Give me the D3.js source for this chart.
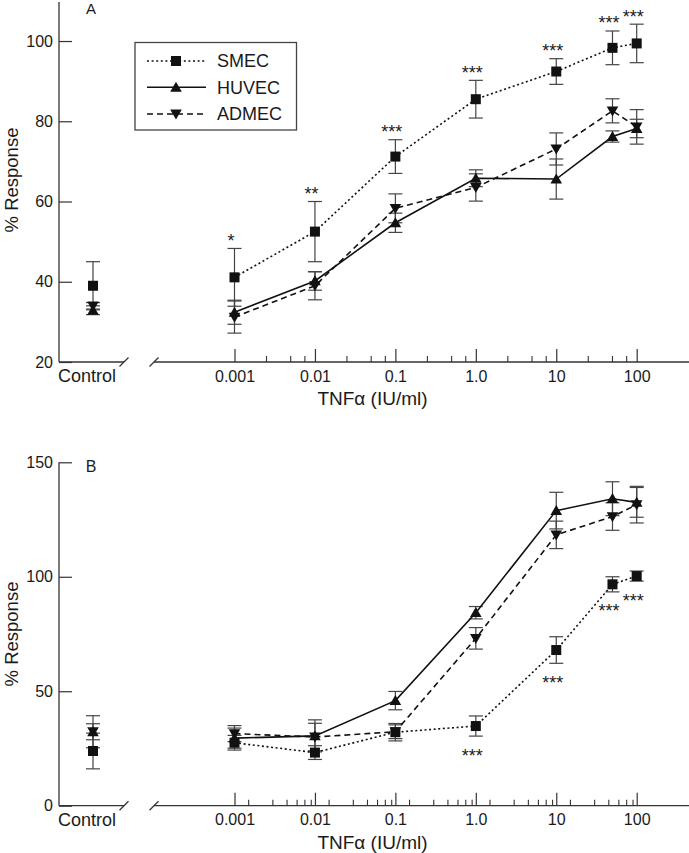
<!DOCTYPE html>
<html><head><meta charset="utf-8">
<script src="https://cdn.jsdelivr.net/npm/d3@7"></script>
<style>
body{margin:0;background:#fff}
svg{display:block}
text{font-family:"Liberation Sans",Arial,Helvetica,sans-serif;fill:#1a1a1a}
</style>
</head><body>
<svg id="c" width="689" height="853"></svg>
<script>
// ---------- DATA ----------
const doses = [0.001, 0.01, 0.1, 1, 10, 50, 100];
const doseTicks = [0.001, 0.01, 0.1, 1, 10, 100];
const doseTickLabels = ["0.001", "0.01", "0.1", "1.0", "10", "100"];
const seriesNames = ["SMEC", "HUVEC", "ADMEC"];
const controlLabel = "Control";
const xTitle = "TNF\u03B1 (IU/ml)";
const yTitle = "% Response";

// Panel A
const yTicksA = [20, 40, 60, 80, 100];
const smecA = [41.1, 52.5, 71.2, 85.5, 92.4, 98.3, 99.4];
const smecAErr = [7.2, 7.5, 4.2, 4.7, 3.2, 4.2, 4.8];
const huvecA = [32.4, 40.2, 54.7, 65.8, 65.6, 76.2, 78.2];
const huvecAErr = [3.0, 2.3, 2.4, 2.1, 5.0, 1.4, 2.3];
const admecA = [31.2, 39.0, 58.3, 63.5, 73.1, 82.6, 78.6];
const admecAErr = [4.0, 3.5, 3.6, 3.4, 4.0, 3.0, 4.3];
const controlA = [39.0, 32.9, 34.0];      // SMEC, HUVEC, ADMEC
const controlAErr = [6.0, 1.1, 0.8];
const starsA = ["*", "**", "***", "***", "***", "***", "***"];

// Panel B
const yTicksB = [0, 50, 100, 150];
const smecB = [27.5, 23.2, 32.1, 34.8, 68.0, 96.7, 100.3];
const smecBErr = [3.2, 3.0, 3.8, 4.4, 5.8, 3.3, 2.2];
const huvecB = [29.5, 30.5, 45.9, 84.3, 128.9, 134.1, 132.5];
const huvecBErr = [4.4, 7.0, 4.0, 2.7, 8.0, 7.4, 6.5];
const admecB = [31.5, 30.0, 32.3, 73.1, 118.3, 126.3, 131.5];
const admecBErr = [3.5, 6.0, 3.0, 4.7, 6.0, 6.0, 8.0];
const controlB = [23.9, 32.3, 32.3];
const controlBErr = [7.8, 3.5, 7.0];
const starsB = ["", "", "", "***", "***", "***", "***"];

// ---------- LAYOUT ----------
const svg = d3.select("#c");
svg.append("rect").attr("width", 689).attr("height", 853).attr("fill", "#fff");

const X0 = 59, breakL = 124, breakR = 154, rightEnd = 689;
const xControl = 93;
const x = d3.scaleLog().domain([0.001, 100]).range([234.5, 636.7]);

const dashes = {SMEC: "2,2.6", HUVEC: null, ADMEC: "6,4"};
const ink = "#111";

function marker(g, name, cx, cy) {
  if (name === "SMEC") {
    g.append("rect").attr("x", cx - 5).attr("y", cy - 5).attr("width", 10).attr("height", 10).attr("fill", ink);
  } else if (name === "HUVEC") {
    g.append("path").attr("d", `M${cx},${cy - 5.6}L${cx + 5.8},${cy + 4.4}L${cx - 5.8},${cy + 4.4}Z`).attr("fill", ink);
  } else {
    g.append("path").attr("d", `M${cx},${cy + 5.6}L${cx + 5.8},${cy - 4.4}L${cx - 5.8},${cy - 4.4}Z`).attr("fill", ink);
  }
}

function errbar(g, cx, y, v, e) {
  const y1 = y(v + e), y2 = y(v - e);
  g.append("line").attr("x1", cx).attr("x2", cx).attr("y1", y1).attr("y2", y2);
  g.append("line").attr("x1", cx - 7).attr("x2", cx + 7).attr("y1", y1).attr("y2", y1);
  g.append("line").attr("x1", cx - 7).attr("x2", cx + 7).attr("y1", y2).attr("y2", y2);
}

function panel(p) {
  const g = svg.append("g");
  const y = p.y;
  // y axis
  const ya = g.append("g").attr("transform", `translate(${X0},0)`)
    .call(d3.axisLeft(y).tickValues(p.yTicks).tickSize(-13).tickPadding(6).tickFormat(d3.format("d")));
  ya.select(".domain").remove();
  ya.selectAll("line").attr("stroke", "#333").attr("stroke-width", 1.2);
  ya.selectAll("text").attr("font-size", 16).attr("fill", "#1a1a1a")
    .style("font-family", "'Liberation Sans',Arial,sans-serif");
  g.append("line").attr("x1", X0).attr("x2", X0).attr("y1", p.yTop).attr("y2", p.axisY)
    .attr("stroke", "#333").attr("stroke-width", 1.3);

  // x axis
  const xa = g.append("g").attr("transform", `translate(0,${p.axisY})`)
    .call(d3.axisBottom(x).tickValues(doseTicks).tickSize(-13).tickPadding(p.tickPad)
      .tickFormat((d, i) => doseTickLabels[i]));
  xa.select(".domain").remove();
  xa.selectAll("line").attr("stroke", "#333").attr("stroke-width", 1.2);
  xa.selectAll("text").attr("font-size", 16).attr("fill", "#1a1a1a")
    .style("font-family", "'Liberation Sans',Arial,sans-serif");
  // minor ticks
  const minor = [];
  doseTicks.slice(0, -1).forEach(d => p.minorMult.forEach(m => minor.push(d * m)));
  g.append("g").selectAll("line").data(minor).join("line")
    .attr("x1", d => x(d)).attr("x2", d => x(d))
    .attr("y1", p.axisY).attr("y2", p.axisY - 6)
    .attr("stroke", "#333").attr("stroke-width", 1.1);
  // axis segments with break marks
  const ax = g.append("g").attr("stroke", "#333").attr("stroke-width", 1.3).attr("fill", "none");
  ax.append("line").attr("x1", X0).attr("x2", breakL).attr("y1", p.axisY).attr("y2", p.axisY);
  ax.append("line").attr("x1", breakR).attr("x2", rightEnd).attr("y1", p.axisY).attr("y2", p.axisY);
  [breakL, breakR].forEach(bx => {
    ax.append("line").attr("x1", bx - 4.5).attr("x2", bx + 4.5)
      .attr("y1", p.axisY + 4.5).attr("y2", p.axisY - 4.5);
  });
  // labels
  g.append("text").attr("x", 87).attr("y", p.axisY + 20).attr("text-anchor", "middle")
    .attr("font-size", 18).text(controlLabel);
  g.append("text").attr("x", 372.5).attr("y", p.axisY + 43).attr("text-anchor", "middle")
    .attr("font-size", 19).text(xTitle);
  g.append("text").attr("transform", `translate(17.5,${p.yMid}) rotate(-90)`)
    .attr("text-anchor", "middle").attr("font-size", 18.5).text(yTitle);
  g.append("text").attr("x", 91).attr("y", p.letterY).attr("text-anchor", "middle")
    .attr("font-size", p.letterSize).text(p.letter);

  // series
  const ser = seriesNames.map((n, i) => ({name: n, v: p.values[i], e: p.errs[i], cv: p.ctrl[i], ce: p.ctrlErr[i]}));
  const eb = g.append("g").attr("stroke", "#444").attr("stroke-width", 1.2);
  ser.forEach(s => {
    s.v.forEach((v, i) => errbar(eb, x(doses[i]), y, v, s.e[i]));
    errbar(eb, xControl, y, s.cv, s.ce);
  });
  const line = d3.line().x((d, i) => x(doses[i])).y(d => y(d));
  ser.forEach(s => {
    g.append("path").attr("d", line(s.v)).attr("fill", "none").attr("stroke", ink)
      .attr("stroke-width", 1.6).attr("stroke-dasharray", dashes[s.name]);
  });
  const mk = g.append("g");
  ser.slice().reverse().forEach(s => {
    s.v.forEach((v, i) => marker(mk, s.name, x(doses[i]), y(v)));
    marker(mk, s.name, xControl, y(s.cv));
  });
  // significance stars (relative to SMEC error bar)
  const sm = ser[0];
  p.stars.forEach((st, i) => {
    if (!st) return;
    const cy = p.starsAbove ? y(sm.v[i] + sm.e[i]) - 12 : y(sm.v[i] - sm.e[i]) + 15;
    g.append("text").attr("x", x(doses[i]) - 3.5).attr("y", cy + 10.4)
      .attr("text-anchor", "middle").attr("font-size", 18).text(st);
  });
}

panel({
  y: d3.scaleLinear().domain([20, 110]).range([362, 0.9]),
  yTicks: yTicksA, yTop: 2, axisY: 362, yMid: 180, tickPad: 8.6,
  minorMult: [2.5, 5, 7.5],
  values: [smecA, huvecA, admecA], errs: [smecAErr, huvecAErr, admecAErr],
  ctrl: controlA, ctrlErr: controlAErr, stars: starsA, starsAbove: true,
  letter: "A", letterY: 13.5, letterSize: 15
});

panel({
  y: d3.scaleLinear().domain([0, 150]).range([805.7, 462.3]),
  yTicks: yTicksB, yTop: 462.3, axisY: 805.7, yMid: 634, tickPad: 7.5,
  minorMult: [1.5, 3, 4.5, 6, 7.5, 9],
  values: [smecB, huvecB, admecB], errs: [smecBErr, huvecBErr, admecBErr],
  ctrl: controlB, ctrlErr: controlBErr, stars: starsB, starsAbove: false,
  letter: "B", letterY: 472, letterSize: 16
});

// legend (panel A)
const lg = svg.append("g");
lg.append("rect").attr("x", 135).attr("y", 42.5).attr("width", 161.5).attr("height", 87.5)
  .attr("fill", "#fff").attr("stroke", "#444").attr("stroke-width", 1.3);
const rowsY = [61, 87.3, 114];
seriesNames.forEach((n, i) => {
  lg.append("line").attr("x1", 147).attr("x2", 206).attr("y1", rowsY[i]).attr("y2", rowsY[i])
    .attr("stroke", ink).attr("stroke-width", 1.5).attr("stroke-dasharray", dashes[n]);
  marker(lg, n, 176, rowsY[i]);
  lg.append("text").attr("x", 217).attr("y", rowsY[i]).attr("dy", "0.36em")
    .attr("font-size", 18).text(n);
});
</script>
</body></html>
